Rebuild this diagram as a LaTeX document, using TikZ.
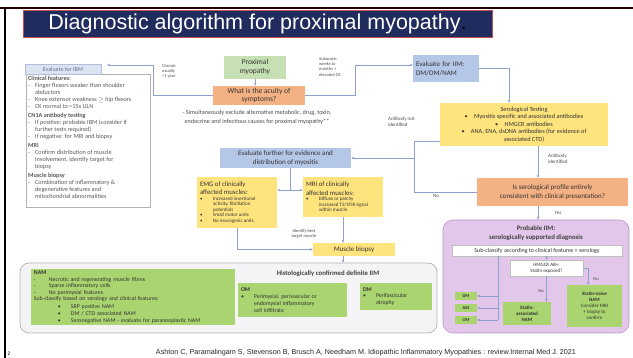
\documentclass[tikz,border=0pt]{standalone}
\usepackage{fontspec}
\setmainfont{Carlito}
\newfontfamily\slidefont{Liberation Sans}
\usetikzlibrary{arrows.meta}

\definecolor{titlebg}{HTML}{202B5E}
\definecolor{titleln}{HTML}{C0504D}
\definecolor{cgreen}{HTML}{C6E0B4}
\definecolor{corange}{HTML}{F4B183}
\definecolor{cblue}{HTML}{B4C7E7}
\definecolor{cyellow}{HTML}{FFE47E}
\definecolor{clime}{HTML}{A9D46F}
\definecolor{cpurple}{HTML}{E3C7EA}
\definecolor{cpurpleln}{HTML}{B892CC}
\definecolor{chist}{HTML}{F4F4F6}
\definecolor{cibmhd}{HTML}{DCE4F2}
\definecolor{clink}{HTML}{8EA0CC}

\newcommand{\bulw}[1]{\makebox[#1][l]{\textbullet}}
\newcommand{\dashw}[1]{\makebox[#1][l]{-}}

\begin{document}
\begin{tikzpicture}[x=1pt,y=-1pt,
  box/.style={rectangle, inner sep=1pt, align=center, text=black!80},
  proxbox/.style={box, fill=cgreen},
  askbox/.style={box, fill=corange},
  evalbox/.style={box, fill=cblue},
  testbox/.style={box, fill=cyellow},
  limebox/.style={box, fill=clime},
  wbox/.style={box, fill=white, draw=black!25, line width=0.4pt},
  lnk/.style={draw=clink, line width=0.6pt},
  arr/.style={lnk, -{Stealth[length=3pt,width=2.6pt]}},
  note/.style={inner sep=0pt, align=left, text=black!70, font=\fontsize{4.5}{5.3}\selectfont}]
\useasboundingbox (0,0) rectangle (633,358);

% slide frame
\draw[line width=1.5pt, color=black!85!red] (0,8) -- (633,8);
\draw[line width=2pt, black] (5,8) -- (5,358);

\node[fill=titlebg, draw=titleln, line width=0.6pt, minimum width=469pt, minimum height=27pt,
  inner sep=0pt, text=white, font=\slidefont\fontsize{21.5}{24}\selectfont] (title) at (257.5,23.5)
  {Diagnostic algorithm for proximal myopathy\textcolor{black}{.}};

% IBM column
\node[draw=black!30, fill=white, line width=0.5pt, minimum width=124pt, minimum height=133pt] (ibm) at (88,140.5) {};
\node[fill=cibmhd, draw=clink!70, line width=0.4pt, minimum width=76pt, minimum height=10pt, inner sep=0pt,
  text=clink!70!black, font=\fontsize{6}{7}\selectfont] (ibmhead) at (63,69) {Evaluate for IBM};
\node[note, anchor=north west, text=black!65, font=\fontsize{6.2}{7}\selectfont] (ibmtxt) at (28,76) {%
{\bfseries Clinical features:}\\
\dashw{7pt}Finger flexors weaker than shoulder\\
\hspace*{7pt}abductors\\
\dashw{7pt}Knee extensor weakness $\geq$ hip flexors\\
\dashw{7pt}CK normal to <15x ULN\\[2pt]
{\bfseries CN1A antibody testing}\\
\dashw{7pt}If positive: probable IBM (consider if\\
\hspace*{7pt}further tests required)\\
\dashw{7pt}If negative: for MRI and biopsy\\[2pt]
{\bfseries MRI}\\
\dashw{7pt}Confirm distribution of muscle\\
\hspace*{7pt}involvement, identify target for\\
\hspace*{7pt}biopsy\\[2pt]
{\bfseries Muscle biopsy}\\
\dashw{7pt}Combination of inflammatory \&\\
\hspace*{7pt}degenerative features and\\
\hspace*{7pt}mitochondrial abnormalities};

% top row
\node[proxbox, minimum width=62pt, minimum height=23pt, font=\fontsize{7.5}{9}\selectfont] (prox) at (255,67.5) {Proximal\\myopathy};
\node[askbox, minimum width=92pt, minimum height=19pt, font=\fontsize{7.5}{8.5}\selectfont] (acuity) at (259,95.5) {What is the acuity of\\symptoms?};
\node[note, align=center, font=\fontsize{6.2}{8.5}\selectfont] (exclude) at (257,117.5)
  {- Simultaneously exclude alternative metabolic, drug, toxin,\\endocrine and infectious causes for proximal myopathy**};
\node[note, anchor=north west] (chronic) at (162,64) {Chronic\\usually\\>1 year};
\node[note, anchor=north west] (subacute) at (319,57) {Subacute:\\weeks to\\months +\\elevated CK};
\node[evalbox, minimum width=66pt, minimum height=27pt, text width=60pt, align=left,
  font=\fontsize{7}{8.5}\selectfont] (dmbox) at (446,68.5) {Evaluate for IIM:\\DM/OM/NAM};

% serology
\node[testbox, minimum width=168pt, minimum height=43pt, font=\fontsize{6.3}{7.5}\selectfont] (serology) at (524,124.5)
  {Serological Testing\\\textbullet\quad Myositis specific and associated antibodies\\\textbullet\quad HMGCR antibodies\\
   \textbullet\quad ANA, ENA, dsDNA antibodies (for evidence of\\associated CTD)};
\node[note, anchor=north west, font=\fontsize{5}{6}\selectfont] (notid) at (388,117) {Antibody not\\identified};
\node[note, anchor=north west, font=\fontsize{5}{6}\selectfont] (abid) at (548,154) {Antibody\\identified};
\node[askbox, minimum width=151pt, minimum height=28pt, font=\fontsize{7}{9}\selectfont] (isser) at (552.5,192)
  {Is serological profile entirely\\consistent with clinical presentation?};
\node[note, font=\fontsize{5}{6}\selectfont] (nolbl) at (436,196) {No};
\node[note, font=\fontsize{5}{6}\selectfont] (yeslbl) at (558,213) {Yes};

% further evaluation
\node[evalbox, minimum width=131pt, minimum height=20pt, font=\fontsize{7}{8.3}\selectfont] (evalf) at (285.5,158)
  {Evaluate further for evidence and\\distribution of myositis};
\node[testbox, minimum width=80pt, minimum height=51pt, text width=74pt, align=flush left, inner xsep=3pt] (emg) at (237,202.5)
  {{\fontsize{6.8}{8.5}\selectfont EMG of clinically\\affected muscles:\par}
   {\fontsize{5}{5.5}\selectfont\bulw{13pt}Increased insertional\\\hspace*{13pt}activity, fibrillation\\\hspace*{13pt}potentials\\
   \bulw{13pt}Small motor units\\\bulw{13pt}No neurogenic units\par}};
\node[testbox, minimum width=80pt, minimum height=40pt, text width=74pt, align=flush left, inner xsep=3pt] (mri) at (343,197)
  {{\fontsize{6.8}{8.5}\selectfont MRI of clinically\\affected muscles:\par}
   {\fontsize{5}{5.5}\selectfont\bulw{13pt}Diffuse or patchy\\\hspace*{13pt}increased T2/STIR signal\\\hspace*{13pt}within muscle\par}};
\node[note, align=center] (target) at (304,234) {Identify best\\target muscle};
\node[testbox, minimum width=82pt, minimum height=13pt, font=\fontsize{7}{8}\selectfont] (biopsy) at (354,249.5) {Muscle biopsy};

% histology
\node[rounded corners=9pt, fill=chist, draw=black!30, line width=0.7pt, minimum width=417pt, minimum height=70pt] (histo) at (228.5,298) {};
\node[text=black!75, font=\bfseries\fontsize{6.8}{8}\selectfont] (histotitle) at (328,274) {Histologically confirmed definite IIM};
\node[limebox, minimum width=204pt, minimum height=56pt, text width=198pt, align=left, inner xsep=3pt,
  font=\fontsize{5.8}{6.5}\selectfont] (nam) at (133,297.5)
  {{\bfseries NAM}\\
   \dashw{15pt}Necrotic and regenerating muscle fibres\\
   \dashw{15pt}Sparse inflammatory cells\\
   \dashw{15pt}No perimysial features\\
   Sub-classify based on serology and clinical features:\\[0.8pt]
   \hspace*{24pt}\bulw{13pt}SRP positive NAM\\[0.8pt]
   \hspace*{24pt}\bulw{13pt}DM / CTD associated NAM\\[0.8pt]
   \hspace*{24pt}\bulw{13pt}Seronegative NAM - evaluate for paraneoplastic NAM};
\node[limebox, minimum width=109pt, minimum height=34pt, text width=103pt, align=left, inner xsep=3pt,
  font=\fontsize{5.8}{6.8}\selectfont] (om) at (292.5,300)
  {{\bfseries OM}\\\bulw{13pt}Perimysial, perivascular or\\\hspace*{13pt}endomysial inflammatory\\\hspace*{13pt}cell infiltrate};
\node[limebox, minimum width=72pt, minimum height=27pt, text width=66pt, align=left, inner xsep=3pt,
  font=\fontsize{5.8}{6.8}\selectfont] (dmh) at (396,296.5)
  {{\bfseries DM}\\\bulw{13pt}Perifascicular\\\hspace*{13pt}atrophy};

% probable IIM
\node[rounded corners=10pt, fill=cpurple, draw=cpurpleln, line width=0.6pt, minimum width=186pt, minimum height=113pt] (probable) at (536,276.5) {};
\node[text=black!75, align=center, font=\bfseries\fontsize{6.8}{9}\selectfont] (probtitle) at (536,233.5)
  {Probable IIM:\\serologically supported diagnosis};
\node[wbox, minimum width=170pt, minimum height=11pt, font=\fontsize{6}{7}\selectfont] (subcl) at (537,250.5)
  {Sub-classify according to clinical features + serology};
\node[wbox, minimum width=73pt, minimum height=16pt, font=\fontsize{5}{6}\selectfont] (hmgcr) at (546.5,268) {HMGCR AB+:\\Statin exposed?};
\node[limebox, minimum width=22pt, minimum height=8pt, font=\bfseries\fontsize{4.5}{5}\selectfont] (dmsm) at (466,296) {DM};
\node[limebox, minimum width=22pt, minimum height=8pt, font=\bfseries\fontsize{4.5}{5}\selectfont] (asssm) at (466,308) {ASS};
\node[limebox, minimum width=22pt, minimum height=8pt, font=\bfseries\fontsize{4.5}{5}\selectfont] (omsm) at (466,320) {OM};
\node[limebox, minimum width=48pt, minimum height=23pt, font=\bfseries\fontsize{5}{6}\selectfont] (assoc) at (527,313.5) {Statin-\\associated\\NAM};
\node[limebox, minimum width=55pt, minimum height=42pt, font=\fontsize{5}{6}\selectfont] (naive) at (594.5,306)
  {{\bfseries Statin-naive}\\{\bfseries NAM}\\Consider MRI\\+ biopsy to\\confirm};
\node[note, font=\fontsize{4.5}{5}\selectfont] (yessm) at (541,291) {Yes};
\node[note, font=\fontsize{4.5}{5}\selectfont] (nosm) at (596,279) {No};

% footer
\node[inner sep=0pt, font=\slidefont\fontsize{5}{6}\selectfont] (pageno) at (9,354) {2};
\node[inner sep=0pt, text=black!85, font=\slidefont\fontsize{7.2}{8}\selectfont] (cite) at (366,353)
  {Ashton C, Paramalingam S, Stevenson B, Brusch A, Needham M. Idiopathic Inflammatory Myopathies : review.Internal Med J. 2021};

% connectors
\coordinate (lknee) at (153,65);
\coordinate (ibmin) at (107,65);
\coordinate (rknee) at (355,65);
\coordinate (dknee) at (509,68.5);
\coordinate (nknee) at (414,141);
\coordinate (vx) at (538,0);
\coordinate (split) at (290,190);
\coordinate (sx) at (498,0);
\coordinate (noknee) at (588,268);

\draw[arr] (prox.south) -- (prox.south |- acuity.north);
\draw[arr] (acuity.west) -| (lknee) -- (ibmin);
\draw[arr] (acuity.east) -| (rknee) -- ([yshift=3.5pt]dmbox.west);
\draw[arr] (dmbox.east) -- (dknee) -- (dknee |- serology.north);
\draw[arr] (nknee -| serology.west) -- (nknee) |- (evalf.east);
\draw[lnk] (isser.west) -| (nknee |- evalf.east);
\draw[arr] (serology.south -| vx) -- (isser.north -| vx);
\draw[arr] (isser.south -| vx) -- (probable.north -| vx);
\draw[lnk] (evalf.south -| split) -- (split);
\draw[arr] (split) -- (split -| emg.east);
\draw[arr] (split) -- (split -| mri.west);
\draw[arr] (emg.south) |- (biopsy.west);
\draw[arr] (mri.south) -- (mri.south |- biopsy.north);
\draw[arr] (mri.south |- biopsy.south) -- (mri.south |- histo.north);

\draw[lnk] (subcl.south -| sx) -- (sx |- omsm.east);
\foreach \b in {dmsm,asssm,omsm}
  \draw[arr] (sx |- \b.east) -- (\b.east);
\draw[arr] (hmgcr.north |- subcl.south) -- (hmgcr.north);
\draw[arr] (hmgcr.south) -- (hmgcr.south |- assoc.north);
\draw[arr] (hmgcr.east) -- (noknee) -- (noknee |- naive.north);
\end{tikzpicture}
\end{document}
